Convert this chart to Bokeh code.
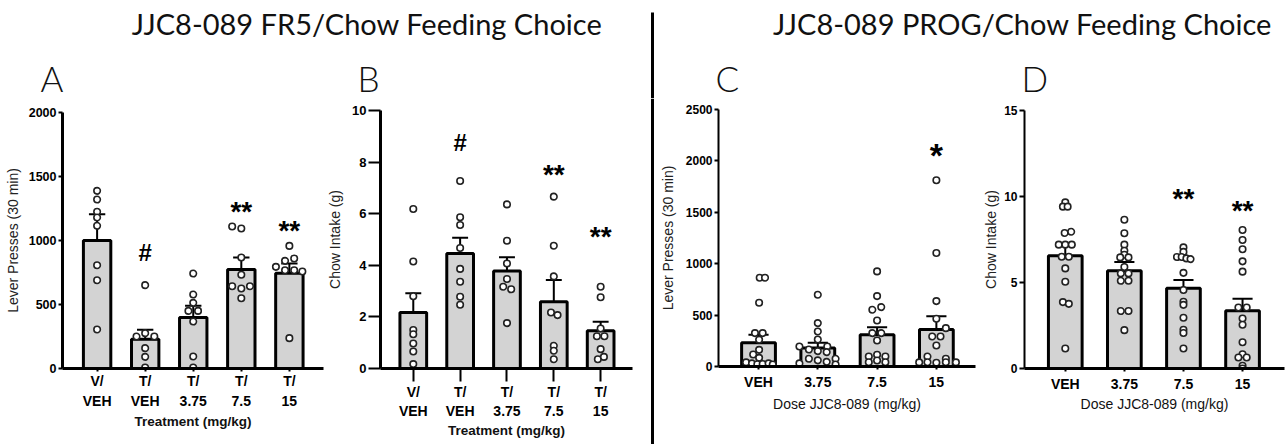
from bokeh.plotting import figure
from bokeh.layouts import column, row
from bokeh.models import Range1d, FixedTicker, Span, ColumnDataSource, LinearAxis
from bokeh.embed import file_html
from bokeh.resources import INLINE
from bokeh.core.properties import value

FONT = "Liberation Sans"
HFONT = "Lato"
LFONT = "Lato Light"

# ---------------- data ----------------
title_left = "JJC8-089 FR5/Chow Feeding Choice"
title_right = "JJC8-089 PROG/Chow Feeding Choice"
panel_letters = ["A", "B", "C", "D"]

fr5_line1 = ["V/", "T/", "T/", "T/", "T/"]
fr5_line2 = ["VEH", "VEH", "3.75", "7.5", "15"]
prog_labels = ["VEH", "3.75", "7.5", "15"]

# Panel A: lever presses FR5
a_mean = [1000, 229, 398, 773, 745]
a_sem = [206, 73, 92, 94, 75]
a_pts = [[1388, 1320, 1225, 1180, 1115, 807, 690, 305],
         [651, 276, 250, 250, 159, 91, 8],
         [742, 578, 513, 450, 450, 367, 94, 8],
         [1109, 1094, 867, 732, 643, 625, 643, 549],
         [958, 841, 859, 794, 768, 768, 758, 237]]
a_dx = [[0, 0, 0, 0, 0, 0, 0, 0],
        [0, 0, -0.18, 0.19, 0, 0, 0],
        [0, 0, 0, -0.1, 0.1, 0, 0, 0],
        [-0.19, 0, 0, 0, -0.19, 0, 0.18, 0],
        [0, -0.09, 0.1, -0.28, -0.09, 0.1, 0.27, 0]]
a_marks = ["", "#", "", "**", "**"]
a_mark_y = [0, 906, 0, 1271, 1122]

# Panel B: chow intake FR5
b_mean = [2.17, 4.46, 3.78, 2.59, 1.46]
b_sem = [0.75, 0.61, 0.53, 0.84, 0.35]
b_pts = [[6.18, 4.15, 2.8, 1.49, 1.33, 0.97, 0.66, 0.17],
         [7.27, 5.86, 5.56, 4.67, 3.86, 3.36, 2.78, 2.47],
         [6.36, 4.95, 4.07, 3.47, 3.17, 3.07, 1.76],
         [6.66, 4.76, 3.57, 2.17, 2.07, 0.88, 0.69, 0.36],
         [3.17, 2.76, 1.55, 1.25, 1.25, 0.75, 0.36, 0.45]]
b_dx = [[0, 0, 0, 0, 0, 0, 0, 0],
        [0, 0, 0, 0, 0, 0, 0, 0],
        [0, 0, 0, 0, -0.08, 0.09, 0],
        [0, 0, 0, -0.06, 0.08, 0, 0, 0],
        [0, 0, 0, -0.08, 0.08, 0, -0.06, 0.07]]
b_marks = ["", "#", "", "**", "**"]
b_mark_y = [0, 8.77, 0, 7.74, 5.34]

# Panel C: lever presses PROG
c_mean = [230, 179, 308, 360]
c_sem = [78, 51, 75, 130]
c_pts = [[864, 864, 620, 325, 325, 260, 162, 117, 84, 40, 30, 22, 25, 30, 20],
         [698, 422, 341, 263, 195, 195, 165, 150, 140, 75, 60, 45, 75, 30, 20],
         [925, 685, 552, 578, 448, 325, 325, 253, 97, 114, 97, 42, 58, 42],
         [1812, 1104, 636, 464, 373, 292, 292, 205, 97, 75, 42, 36, 42, 40, 40]]
c_dx = [[0.02, 0.11, 0.01, -0.06, 0.07, 0.01, 0.01, -0.09, 0.01, -0.21, -0.11, -0.02, 0.07, 0.17, 0.24],
        [0, 0, 0, 0, -0.31, 0.16, -0.15, 0, 0.15, -0.15, 0, 0.15, 0.3, -0.31, 0.3],
        [0, 0, -0.08, 0.07, 0, -0.08, 0.07, 0, -0.14, 0, 0.14, -0.14, 0, 0.14],
        [0, 0, 0, 0, 0.16, -0.07, 0.07, 0, -0.15, 0.16, -0.15, 0, 0.16, -0.29, 0.33]]
c_marks = ["", "", "", "*"]
c_mark_y = [0, 0, 0, 2120]

# Panel D: chow intake PROG
d_mean = [6.56, 5.68, 4.66, 3.36]
d_sem = [0.64, 0.51, 0.48, 0.69]
d_pts = [[9.66, 9.41, 9.41, 7.88, 7.95, 7.2, 7.2, 7.2, 6.5, 6.5, 5.82, 5.04, 3.86, 3.76, 1.16],
         [8.65, 7.86, 7.2, 6.85, 6.61, 6.46, 6.46, 5.9, 5.53, 5.53, 5.1, 5.1, 3.34, 3.34, 2.23],
         [7.04, 6.78, 6.48, 6.48, 6.4, 6.36, 5.56, 4.56, 3.88, 3.7, 2.95, 2.25, 2.06, 1.16],
         [8.05, 7.47, 6.93, 6.23, 5.63, 3.55, 3.55, 2.91, 2.54, 1.53, 0.83, 0.64, 0.64, 0.16, 0.0]]
d_dx = [[0, -0.04, 0.04, -0.01, 0.1, -0.11, 0, 0.11, -0.06, 0.06, 0, 0, -0.04, 0.06, 0],
        [0, 0, 0, 0, 0, -0.07, 0.07, 0, -0.06, 0.07, -0.06, 0.07, -0.06, 0.07, 0],
        [0, 0, -0.11, -0.03, 0.05, 0.12, 0, 0, 0, 0, 0, 0, 0, 0],
        [0, 0, 0, 0, 0, -0.07, 0.07, 0, 0, 0, 0, -0.07, 0.07, 0, 0]]
d_marks = ["", "", "**", "**"]
d_mark_y = [0, 0, 10.24, 9.56]

HDR_H = 98
ROW_H = 346


def style_xaxis(ax, ticks, labels, tick_out, standoff, label="", label_standoff=0,
                bold_label=True, show_line=True):
    ax.ticker = FixedTicker(ticks=ticks)
    ax.major_label_overrides = {i: lab for i, lab in zip(ticks, labels)}
    ax.major_label_text_font = FONT
    ax.major_label_text_font_style = "bold"
    ax.major_label_text_font_size = "14px"
    ax.major_label_text_color = "black"
    ax.major_label_standoff = standoff
    ax.major_tick_out = tick_out
    ax.major_tick_in = 0
    ax.minor_tick_out = 0
    ax.minor_tick_in = 0
    ax.major_tick_line_width = 2
    ax.major_tick_line_color = "black" if tick_out else None
    ax.axis_line_width = 3
    ax.axis_line_color = "black" if show_line else None
    if label:
        ax.axis_label = label
        ax.axis_label_text_font = FONT
        ax.axis_label_text_font_style = "bold" if bold_label else "normal"
        ax.axis_label_text_font_size = "13.5px" if bold_label else "14px"
        ax.axis_label_text_color = "#111111"
        ax.axis_label_standoff = label_standoff


def panel(width, mbl, mbr, mbt, mbb, xr, ymax, yticks, mean, sem,
          pts, dx, marks, mark_y, ylabel, ytick_out, ylab_standoff,
          ytick_font="12px", axis_w=2.5):
    p = figure(width=width, height=ROW_H, x_range=Range1d(*xr), y_range=Range1d(0, ymax),
               toolbar_location=None, output_backend="svg",
               min_border_left=mbl, min_border_right=mbr,
               min_border_top=mbt, min_border_bottom=mbb)
    p.frame_align = False
    p.grid.visible = False
    p.outline_line_color = None
    n = len(mean)
    xs = list(range(n))
    p.vbar(x=xs, top=mean, width=0.57, fill_color="#d3d3d3",
           line_color="black", line_width=3)
    tops = [m + s for m, s in zip(mean, sem)]
    p.segment(x0=xs, y0=mean, x1=xs, y1=tops, line_color="black", line_width=2)
    p.segment(x0=[x - 0.17 for x in xs], y0=tops, x1=[x + 0.17 for x in xs], y1=tops,
              line_color="black", line_width=2)
    px, py = [], []
    for i, (vals, offs) in enumerate(zip(pts, dx)):
        px += [i + o for o in offs]
        py += vals
    p.scatter(x=px, y=py, marker="circle", size=6.5, fill_color="white",
              line_color="#222222", line_width=1.6)
    mx = [i for i, m in enumerate(marks) if m]
    ms = [marks[i] for i in mx]
    my = [mark_y[i] for i in mx]
    sizes = ["24px" if m == "#" else ("34px" if m == "*" else "28px") for m in ms]
    offs = [0 if m == "#" else 6 for m in ms]
    src = ColumnDataSource(dict(x=mx, y=my, t=ms, s=sizes, o=offs))
    p.text(x="x", y="y", text="t", source=src, text_font=value(FONT),
           text_font_style="bold", text_font_size="s", text_align="center",
           text_baseline="middle", y_offset="o", text_color="black")

    ya = p.yaxis[0]
    ya.ticker = FixedTicker(ticks=yticks)
    ya.major_label_text_font = FONT
    ya.major_label_text_font_style = "bold"
    ya.major_label_text_font_size = ytick_font
    ya.major_label_text_color = "black"
    ya.major_label_standoff = 2
    ya.major_tick_out = ytick_out
    ya.major_tick_in = 0
    ya.minor_tick_out = 0
    ya.minor_tick_in = 0
    ya.major_tick_line_width = 2
    ya.axis_line_width = axis_w
    ya.axis_label = ylabel
    ya.axis_label_text_font = FONT
    ya.axis_label_text_font_style = "normal"
    ya.axis_label_text_font_size = "14px"
    ya.axis_label_text_color = "#222222"
    ya.axis_label_standoff = ylab_standoff
    return p, xs


# Panel A: canvas x 0..324
pA, xsA = panel(324, 62, 1, 14, 76, (-0.72, 4.71), 2000, [0, 500, 1000, 1500, 2000],
                a_mean, a_sem, a_pts, a_dx, a_marks, a_mark_y,
                "Lever Presses (30 min)", 4, 5, ytick_font="12.5px", axis_w=3)
style_xaxis(pA.xaxis[0], xsA, fr5_line1, 3, 1)
axA2 = LinearAxis()
pA.add_layout(axA2, "below")
style_xaxis(axA2, xsA, fr5_line2, 0, 1, "Treatment (mg/kg)", 2, True, False)

# Panel B: canvas x 324..649
pB, xsB = panel(325, 49, 17, 12, 76, (-0.70, 4.68), 10, [0, 2, 4, 6, 8, 10],
                b_mean, b_sem, b_pts, b_dx, b_marks, b_mark_y,
                "Chow Intake (g)", 12, 6, ytick_font="13px", axis_w=3)
style_xaxis(pB.xaxis[0], xsB, fr5_line1, 13, 2)
axB2 = LinearAxis()
pB.add_layout(axB2, "below")
style_xaxis(axB2, xsB, fr5_line2, 0, 0, "Treatment (mg/kg)", 1, True, False)

# Panel C: canvas x 655..978
pC, xsC = panel(323, 63, 3, 11, 78, (-0.675, 3.66), 2500, [0, 500, 1000, 1500, 2000, 2500],
                c_mean, c_sem, c_pts, c_dx, c_marks, c_mark_y,
                "Lever Presses (30 min)", 4, 7, ytick_font="12px", axis_w=2)
style_xaxis(pC.xaxis[0], xsC, prog_labels, 3, 4, "Dose JJC8-089 (mg/kg)", 3, False)

# Panel D: canvas x 978..1287
pD, xsD = panel(309, 46, 3, 12, 76, (-0.69, 3.71), 15, [0, 5, 10, 15],
                d_mean, d_sem, d_pts, d_dx, d_marks, d_mark_y,
                "Chow Intake (g)", 5, 2, ytick_font="12px", axis_w=2)
style_xaxis(pD.xaxis[0], xsD, prog_labels, 3, 4, "Dose JJC8-089 (mg/kg)", 1, False)

# divider (canvas x 649..655)
div = figure(width=6, height=ROW_H, x_range=Range1d(0, 6), y_range=Range1d(0, 1),
             toolbar_location=None, output_backend="svg", min_border=0,
             x_axis_location=None, y_axis_location=None)
div.frame_align = False
div.grid.visible = False
div.outline_line_color = None
div.add_layout(Span(location=3, dimension="height", line_color="black", line_width=3))

# header
hdr = figure(width=1287, height=HDR_H, x_range=Range1d(0, 1287), y_range=Range1d(HDR_H, 0),
             toolbar_location=None, output_backend="svg", min_border=0,
             x_axis_location=None, y_axis_location=None)
hdr.frame_align = False
hdr.grid.visible = False
hdr.outline_line_color = None
hdr.text(x=[366.5, 1022], y=[23, 23], text=[title_left, title_right],
         text_font=value(HFONT), text_font_size="29px", text_align="center",
         text_baseline="middle", text_color="#111111")
hdr.text(x=[40, 357, 715, 1021], y=[77.5, 77.5, 77.5, 77.5], text=panel_letters,
         text_font=value(LFONT), text_font_size="35px", text_align="left",
         text_baseline="middle", text_color="#111111")
hdr.segment(x0=[652], y0=[12], x1=[652], y1=[HDR_H], line_color="black", line_width=3)

layout = column(hdr, row(pA, pB, div, pC, pD))
open("out.html", "w").write(file_html(layout, INLINE))
